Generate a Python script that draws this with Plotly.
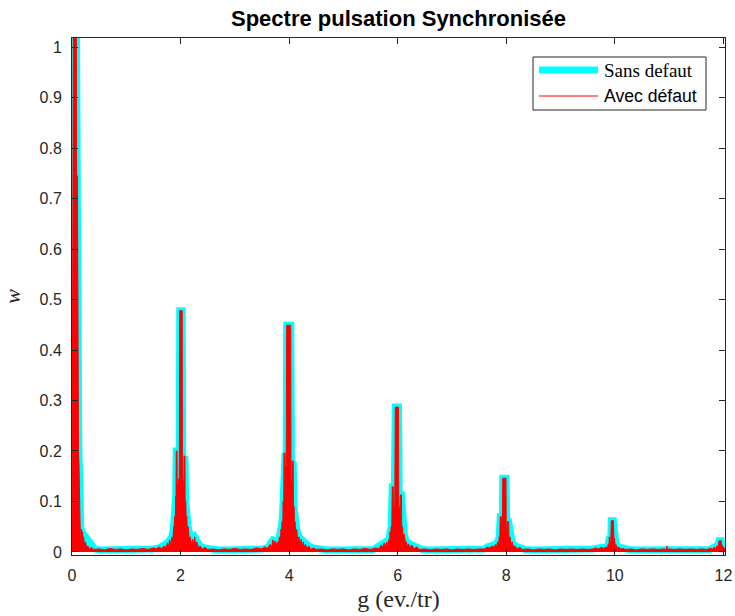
import plotly.graph_objects as go

# ---------------- data: "Avec défaut" (red) ----------------
g_a0 = [0.000, 0.025, 0.080, 0.085, 0.100, 0.105, 0.115, 0.120, 0.130, 0.135, 0.145, 0.155, 0.165,
        0.175, 0.185, 0.195, 0.205, 0.215, 0.230, 0.250, 0.270, 0.290, 0.320, 0.360, 0.400]
w_a0 = [0.005, 1.060, 1.060, 0.745, 0.745, 0.470, 0.470, 0.200, 0.170, 0.080, 0.075, 0.030, 0.025,
        0.045, 0.012, 0.040, 0.010, 0.030, 0.012, 0.020, 0.008, 0.012, 0.006, 0.009, 0.005]

g_a1 = [0.50, 0.60, 0.70, 0.80, 0.90, 1.00, 1.10, 1.20, 1.30, 1.40, 1.50]
w_a1 = [0.006, 0.004, 0.007, 0.005, 0.006, 0.004, 0.006, 0.005, 0.007, 0.005, 0.008]

g_a2 = [1.55, 1.60, 1.65, 1.70, 1.73, 1.76, 1.78, 1.80, 1.82, 1.84, 1.86, 1.87, 1.88, 1.89, 1.90,
        1.91, 1.915, 1.92, 1.935, 1.94, 1.95, 1.955, 1.965, 1.975, 1.985, 2.030, 2.035, 2.045,
        2.055, 2.065, 2.080, 2.085, 2.095, 2.105, 2.115, 2.125, 2.14, 2.16, 2.18, 2.20, 2.22,
        2.24, 2.26, 2.28, 2.30, 2.33, 2.36, 2.40, 2.45, 2.50]
w_a2 = [0.006, 0.010, 0.007, 0.012, 0.008, 0.018, 0.010, 0.024, 0.012, 0.030, 0.018, 0.050, 0.035,
        0.070, 0.045, 0.110, 0.060, 0.200, 0.200, 0.090, 0.135, 0.080, 0.145, 0.100, 0.478, 0.478,
        0.120, 0.140, 0.090, 0.190, 0.190, 0.080, 0.100, 0.060, 0.070, 0.040, 0.050, 0.025, 0.030,
        0.012, 0.025, 0.015, 0.030, 0.012, 0.020, 0.008, 0.012, 0.006, 0.009, 0.005]

g_a3 = [2.60, 2.70, 2.80, 2.90, 3.00, 3.10, 3.20, 3.30, 3.40, 3.50]
w_a3 = [0.006, 0.004, 0.006, 0.005, 0.007, 0.005, 0.006, 0.005, 0.008, 0.006]

g_a4 = [3.55, 3.60, 3.65, 3.68, 3.70, 3.72, 3.74, 3.76, 3.78, 3.80, 3.82, 3.84, 3.85, 3.86, 3.87,
        3.88, 3.89, 3.90, 3.905, 3.925, 3.93, 3.94, 3.945, 3.955, 4.030, 4.035, 4.045, 4.05, 4.055,
        4.075, 4.08, 4.09, 4.10, 4.11, 4.12, 4.14, 4.16, 4.18, 4.20, 4.22, 4.24, 4.26, 4.28, 4.30,
        4.33, 4.36, 4.40, 4.45, 4.50]
w_a4 = [0.010, 0.007, 0.015, 0.010, 0.024, 0.012, 0.022, 0.010, 0.020, 0.012, 0.030, 0.020, 0.045,
        0.030, 0.060, 0.040, 0.100, 0.070, 0.196, 0.196, 0.090, 0.170, 0.100, 0.449, 0.449, 0.110,
        0.140, 0.080, 0.180, 0.180, 0.070, 0.090, 0.050, 0.060, 0.035, 0.045, 0.020, 0.030, 0.012,
        0.025, 0.010, 0.020, 0.008, 0.015, 0.006, 0.012, 0.005, 0.008, 0.005]

g_a5 = [4.60, 4.70, 4.80, 4.90, 5.00, 5.10, 5.20, 5.30, 5.40, 5.50]
w_a5 = [0.006, 0.004, 0.006, 0.005, 0.006, 0.004, 0.006, 0.005, 0.007, 0.005]

g_a6 = [5.60, 5.65, 5.70, 5.72, 5.75, 5.77, 5.80, 5.82, 5.84, 5.85, 5.86, 5.87, 5.88, 5.89, 5.90,
        5.92, 5.925, 5.935, 5.945, 5.955, 6.015, 6.02, 6.03, 6.04, 6.05, 6.07, 6.075, 6.09, 6.10,
        6.12, 6.14, 6.16, 6.18, 6.20, 6.23, 6.26, 6.30, 6.35, 6.40]
w_a6 = [0.008, 0.006, 0.014, 0.008, 0.018, 0.010, 0.020, 0.012, 0.025, 0.018, 0.040, 0.025, 0.050,
        0.035, 0.129, 0.129, 0.050, 0.090, 0.060, 0.287, 0.287, 0.070, 0.090, 0.050, 0.113, 0.113,
        0.040, 0.050, 0.030, 0.035, 0.020, 0.020, 0.010, 0.016, 0.008, 0.014, 0.006, 0.010, 0.005]

g_a7 = [6.50, 6.60, 6.70, 6.80, 6.90, 7.00, 7.10, 7.20, 7.30, 7.40, 7.50]
w_a7 = [0.006, 0.004, 0.006, 0.005, 0.006, 0.004, 0.006, 0.005, 0.006, 0.005, 0.006]

g_a8 = [7.60, 7.65, 7.70, 7.74, 7.78, 7.80, 7.82, 7.84, 7.86, 7.87, 7.88, 7.89, 7.91, 7.915, 7.93,
        7.935, 7.995, 8.00, 8.01, 8.02, 8.045, 8.05, 8.07, 8.09, 8.11, 8.13, 8.16, 8.20, 8.25, 8.30]
w_a8 = [0.006, 0.010, 0.008, 0.012, 0.009, 0.015, 0.010, 0.020, 0.014, 0.030, 0.020, 0.070, 0.070,
        0.030, 0.045, 0.146, 0.146, 0.035, 0.040, 0.060, 0.060, 0.025, 0.030, 0.015, 0.020, 0.010,
        0.012, 0.006, 0.009, 0.005]

g_a9 = [8.40, 8.50, 8.60, 8.70, 8.80, 8.90, 9.00, 9.10, 9.20, 9.30, 9.40, 9.50]
w_a9 = [0.006, 0.004, 0.006, 0.005, 0.006, 0.004, 0.006, 0.005, 0.006, 0.005, 0.006, 0.005]

g_a10 = [9.60, 9.65, 9.70, 9.75, 9.80, 9.84, 9.86, 9.88, 9.89, 9.90, 9.91, 9.925, 9.935, 9.975,
         9.985, 9.995, 10.005, 10.02, 10.04, 10.07, 10.10, 10.15, 10.20]
w_a10 = [0.006, 0.008, 0.006, 0.009, 0.007, 0.010, 0.008, 0.015, 0.010, 0.030, 0.015, 0.020, 0.062,
         0.062, 0.015, 0.027, 0.012, 0.015, 0.008, 0.010, 0.006, 0.007, 0.005]

g_a11 = [10.30, 10.40, 10.50, 10.60, 10.70, 10.80, 10.90, 10.955, 10.96, 10.965, 11.00, 11.10,
         11.20, 11.30, 11.40, 11.50, 11.60, 11.70, 11.75]
w_a11 = [0.006, 0.004, 0.006, 0.005, 0.006, 0.005, 0.006, 0.005, 0.012, 0.005, 0.006, 0.005,
         0.006, 0.005, 0.006, 0.005, 0.006, 0.005, 0.007]

g_a12 = [11.80, 11.83, 11.86, 11.88, 11.90, 11.91, 11.92, 11.96, 11.965, 11.975, 11.985, 12.00,
         12.02, 12.03]
w_a12 = [0.006, 0.009, 0.007, 0.012, 0.009, 0.015, 0.022, 0.022, 0.010, 0.014, 0.008, 0.010,
         0.006, 0.006]

# ---------------- data: "Sans defaut" (cyan) ----------------
g_s0 = [0.000, 0.025, 0.080, 0.085, 0.105, 0.110, 0.120, 0.125, 0.135, 0.140, 0.150, 0.160, 0.180,
        0.220, 0.260, 0.300, 0.340, 0.380, 0.420, 0.500]
w_s0 = [0.004, 1.060, 1.060, 0.745, 0.745, 0.470, 0.470, 0.200, 0.170, 0.090, 0.075, 0.050, 0.040,
        0.035, 0.025, 0.020, 0.015, 0.010, 0.006, 0.004]

g_s1 = [0.70, 0.90, 1.10, 1.30, 1.45]
w_s1 = [0.004, 0.004, 0.004, 0.004, 0.005]

g_s2 = [1.50, 1.60, 1.70, 1.76, 1.80, 1.84, 1.87, 1.89, 1.91, 1.92, 1.935, 1.95, 1.975, 1.985,
        2.030, 2.040, 2.065, 2.080, 2.095, 2.115, 2.14, 2.18, 2.22, 2.26, 2.30, 2.36, 2.45, 2.55]
w_s2 = [0.006, 0.008, 0.012, 0.018, 0.024, 0.030, 0.050, 0.070, 0.110, 0.200, 0.200, 0.140, 0.145,
        0.478, 0.478, 0.140, 0.190, 0.190, 0.100, 0.070, 0.050, 0.030, 0.025, 0.030, 0.020, 0.012,
        0.008, 0.005]

g_s3 = [2.70, 2.90, 3.10, 3.30, 3.45]
w_s3 = [0.004, 0.004, 0.004, 0.004, 0.005]

g_s4 = [3.50, 3.60, 3.65, 3.70, 3.74, 3.78, 3.82, 3.85, 3.87, 3.89, 3.905, 3.925, 3.94, 3.945,
        3.955, 4.030, 4.045, 4.055, 4.075, 4.09, 4.11, 4.14, 4.18, 4.22, 4.26, 4.30, 4.36, 4.45, 4.55]
w_s4 = [0.006, 0.008, 0.015, 0.024, 0.022, 0.020, 0.030, 0.045, 0.060, 0.100, 0.196, 0.196, 0.170,
        0.150, 0.449, 0.449, 0.140, 0.180, 0.180, 0.090, 0.060, 0.045, 0.030, 0.025, 0.020, 0.015,
        0.012, 0.008, 0.005]

g_s5 = [4.70, 4.90, 5.10, 5.30, 5.50]
w_s5 = [0.004, 0.004, 0.004, 0.004, 0.005]

g_s6 = [5.55, 5.60, 5.70, 5.75, 5.80, 5.84, 5.86, 5.88, 5.90, 5.92, 5.935, 5.955, 6.015, 6.03,
        6.05, 6.07, 6.09, 6.12, 6.16, 6.20, 6.26, 6.35, 6.45]
w_s6 = [0.005, 0.008, 0.014, 0.018, 0.020, 0.025, 0.040, 0.050, 0.129, 0.129, 0.090, 0.287, 0.287,
        0.090, 0.113, 0.113, 0.050, 0.035, 0.020, 0.016, 0.014, 0.010, 0.005]

g_s7 = [6.60, 6.80, 7.00, 7.20, 7.40, 7.55]
w_s7 = [0.004, 0.004, 0.004, 0.004, 0.004, 0.005]

g_s8 = [7.60, 7.65, 7.74, 7.80, 7.84, 7.87, 7.89, 7.91, 7.93, 7.935, 7.995, 8.01, 8.02, 8.045, 8.07,
        8.11, 8.16, 8.25, 8.35]
w_s8 = [0.006, 0.010, 0.012, 0.015, 0.020, 0.030, 0.070, 0.070, 0.045, 0.146, 0.146, 0.040, 0.060,
        0.060, 0.030, 0.020, 0.012, 0.009, 0.005]

g_s9 = [8.50, 8.70, 8.90, 9.10, 9.30, 9.50]
w_s9 = [0.004, 0.004, 0.004, 0.004, 0.004, 0.005]

g_s10 = [9.60, 9.75, 9.84, 9.88, 9.90, 9.925, 9.935, 9.975, 9.995, 10.02, 10.07, 10.15, 10.25]
w_s10 = [0.006, 0.009, 0.010, 0.015, 0.030, 0.020, 0.062, 0.062, 0.027, 0.015, 0.010, 0.007, 0.005]

g_s11 = [10.40, 10.60, 10.80, 11.00, 11.20, 11.40, 11.60, 11.75]
w_s11 = [0.004, 0.004, 0.004, 0.004, 0.004, 0.004, 0.004, 0.005]

g_s12 = [11.83, 11.88, 11.91, 11.92, 11.96, 11.975, 12.00, 12.03]
w_s12 = [0.009, 0.012, 0.015, 0.022, 0.022, 0.014, 0.010, 0.006]

x_ticks = [0, 2, 4, 6, 8, 10, 12]
y_ticks = [0, 0.1, 0.2, 0.3, 0.4, 0.5, 0.6, 0.7, 0.8, 0.9, 1]
y_tick_text = ["0", "0.1", "0.2", "0.3", "0.4", "0.5", "0.6", "0.7", "0.8", "0.9", "1"]

title_text = "Spectre pulsation Synchronisée"
x_label = "g (ev./tr)"
y_label = "w"
name_sans = "Sans defaut"
name_avec = "Avec défaut"

g_avec = g_a0 + g_a1 + g_a2 + g_a3 + g_a4 + g_a5 + g_a6 + g_a7 + g_a8 + g_a9 + g_a10 + g_a11 + g_a12
w_avec = w_a0 + w_a1 + w_a2 + w_a3 + w_a4 + w_a5 + w_a6 + w_a7 + w_a8 + w_a9 + w_a10 + w_a11 + w_a12
g_sans = g_s0 + g_s1 + g_s2 + g_s3 + g_s4 + g_s5 + g_s6 + g_s7 + g_s8 + g_s9 + g_s10 + g_s11 + g_s12
w_sans = w_s0 + w_s1 + w_s2 + w_s3 + w_s4 + w_s5 + w_s6 + w_s7 + w_s8 + w_s9 + w_s10 + w_s11 + w_s12
assert len(g_avec) == len(w_avec) and len(g_sans) == len(w_sans)

CYAN = "#00FFFF"
RED = "#FF0000"
AX = "#262626"
SANS = "Liberation Sans, Arial, Helvetica, sans-serif"
SERIF = "Liberation Serif, Times New Roman, serif"

W, H = 735, 616
L, R, T, B = 72, 10, 38, 61
PW, PH = W - L - R, H - T - B


def px_x(X):  # window pixel -> paper x
    return (X - L) / PW


def px_y(Y):  # window pixel -> paper y
    return (H - B - Y) / PH


fig = go.Figure()
fig.add_trace(go.Scatter(x=g_sans, y=w_sans, mode="lines", fill="tozeroy", fillcolor=CYAN,
                         line=dict(color=CYAN, width=7), showlegend=False, hoverinfo="skip",
                         name=name_sans))
fig.add_trace(go.Scatter(x=g_avec, y=w_avec, mode="lines", fill="tozeroy", fillcolor=RED,
                         line=dict(color=RED, width=1), showlegend=False, hoverinfo="skip",
                         name=name_avec))

# legend (MATLAB style box)
fig.add_shape(type="rect", xref="paper", yref="paper", x0=px_x(533), x1=px_x(706),
              y0=px_y(110), y1=px_y(57), line=dict(color=AX, width=1), fillcolor="white",
              layer="above")
fig.add_shape(type="line", xref="paper", yref="paper", x0=px_x(539), x1=px_x(598),
              y0=px_y(70), y1=px_y(70), line=dict(color=CYAN, width=7), layer="above")
fig.add_shape(type="line", xref="paper", yref="paper", x0=px_x(539), x1=px_x(598),
              y0=px_y(96), y1=px_y(96), line=dict(color=RED, width=1), layer="above")
fig.add_annotation(x=px_x(602), y=px_y(70), xref="paper", yref="paper", xanchor="left",
                   yanchor="middle", showarrow=False, text=name_sans,
                   font=dict(family=SERIF, size=19, color="black"))
fig.add_annotation(x=px_x(602), y=px_y(96), xref="paper", yref="paper", xanchor="left",
                   yanchor="middle", showarrow=False, text=name_avec,
                   font=dict(family=SANS, size=17.6, color="black"))

fig.update_layout(
    width=W, height=H,
    margin=dict(l=L, r=R, t=T, b=B, autoexpand=False),
    paper_bgcolor="white", plot_bgcolor="white",
    showlegend=False,
    font=dict(family=SANS, size=16, color=AX),
    title=dict(text=f"<b>{title_text}</b>", x=0.5, xref="paper", xanchor="center",
               y=1 - 18 / H, yanchor="middle", yref="container",
               font=dict(family=SANS, size=22, color="black")),
)
fig.update_xaxes(range=[0, 12.03], tickvals=x_ticks, ticks="inside", ticklen=6, tickcolor=AX,
                 showline=True, linecolor=AX, linewidth=1, mirror="ticks", showgrid=False,
                 zeroline=False, tickfont=dict(family=SANS, size=16, color=AX), automargin=False,
                 ticklabelstandoff=6,
                 title=dict(text=x_label, font=dict(family=SERIF, size=24, color=AX), standoff=6))
fig.update_yaxes(range=[-0.006, 1.018], tickvals=y_ticks, ticktext=y_tick_text, ticks="inside",
                 ticklen=6, tickcolor=AX, showline=True, linecolor=AX, linewidth=1, mirror="ticks",
                 showgrid=False, zeroline=False, tickfont=dict(family=SANS, size=16, color=AX),
                 ticklabelstandoff=6, automargin=False,
                 title=dict(text=f"<i>{y_label}</i>", font=dict(family=SERIF, size=22, color=AX),
                            standoff=14))

# remove the default 8px page margin so the figure fills the 735x616 window exactly
fig.write_html("out.html",
               config={"displayModeBar": False},
               post_script="document.body.style.margin='0';document.body.style.overflow='hidden';")
